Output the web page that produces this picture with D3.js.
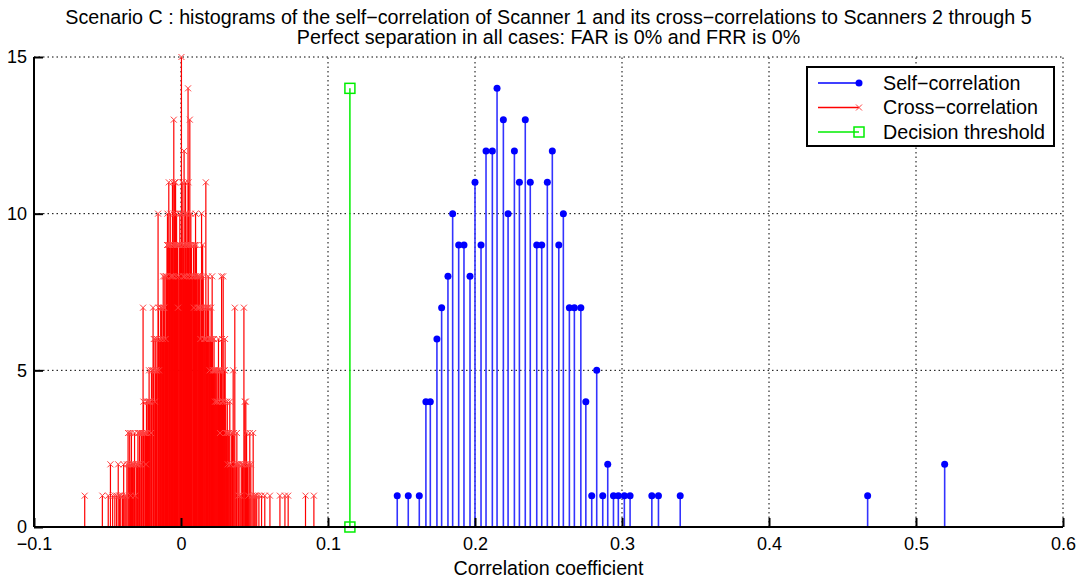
<!DOCTYPE html>
<html>
<head>
<meta charset="utf-8">
<script src="https://cdn.jsdelivr.net/npm/d3@7"></script>
<style>
  body { margin: 0; background: #fff; }
  text { font-family: "Liberation Sans", Arial, sans-serif; fill: #000; }
</style>
</head>
<body>
<div id="chart"></div>
<script>
// Self-correlation histogram (bin centre, count)
var selfStems = [
  [0.1471, 1], [0.1546, 1], [0.1621, 1], [0.1666, 4], [0.1696, 4], [0.1741, 6],
  [0.1773, 7], [0.1816, 8], [0.1848, 10], [0.1889, 9], [0.1925, 9], [0.1966, 8],
  [0.2000, 11], [0.2041, 9], [0.2075, 12], [0.2118, 12], [0.2150, 14], [0.2193, 13],
  [0.2225, 10], [0.2268, 12], [0.2302, 11], [0.2342, 13], [0.2376, 11], [0.2420, 9],
  [0.2454, 9], [0.2492, 11], [0.2526, 12], [0.2570, 9], [0.2601, 10], [0.2642, 7],
  [0.2676, 7], [0.2720, 7], [0.2754, 4], [0.2794, 1], [0.2828, 5], [0.2869, 1],
  [0.2903, 2], [0.2942, 1], [0.2975, 1], [0.3016, 1], [0.3055, 1], [0.3203, 1],
  [0.3248, 1], [0.3396, 1], [0.4671, 1], [0.5195, 2]
];

// Cross-correlation histograms (Scanners 2-5 overlaid)
var crossStems = [
  [-0.0655, 1], [-0.0535, 1], [-0.0495, 1], [-0.048, 2], [-0.0465, 1], [-0.045, 1],
  [-0.0438, 1], [-0.0427, 2], [-0.0418, 1], [-0.041, 1], [-0.0398, 1], [-0.039, 2],
  [-0.0382, 1], [-0.0375, 1], [-0.0368, 2], [-0.036, 3], [-0.0355, 2], [-0.0349, 3],
  [-0.0343, 1], [-0.0337, 3], [-0.033, 2], [-0.0325, 2], [-0.032, 2], [-0.0312, 1],
  [-0.0305, 2], [-0.030, 2], [-0.0293, 3], [-0.0287, 2], [-0.028, 3], [-0.0273, 2],
  [-0.0265, 3], [-0.0258, 7], [-0.0252, 3], [-0.0245, 3], [-0.0238, 2], [-0.0235, 4],
  [-0.0228, 3], [-0.0222, 4], [-0.0217, 5], [-0.021, 4], [-0.0204, 3], [-0.0198, 5],
  [-0.019, 7], [-0.0185, 6], [-0.0178, 4], [-0.0172, 5], [-0.017, 5], [-0.0163, 6],
  [-0.0156, 10], [-0.015, 5], [-0.0145, 6], [-0.0138, 7], [-0.013, 7], [-0.0125, 6],
  [-0.0118, 7], [-0.011, 8], [-0.0105, 6], [-0.0098, 8], [-0.0092, 10], [-0.0087, 9],
  [-0.0083, 11], [-0.0077, 9], [-0.007, 8], [-0.0064, 9], [-0.0058, 11], [-0.0053, 8],
  [-0.0049, 13], [-0.0043, 11], [-0.0037, 11], [-0.003, 10], [-0.0024, 9], [-0.0015, 8],
  [-0.0008, 10], [0.0003, 15], [0.0008, 11], [0.0015, 8], [0.0021, 12], [0.0028, 10],
  [0.0035, 9], [0.0041, 10], [0.0048, 14], [0.0054, 9], [0.006, 13], [0.0067, 10],
  [0.0075, 8], [0.0085, 9], [0.0092, 8], [0.0099, 10], [0.0105, 9], [0.011, 7],
  [0.0118, 8], [0.0125, 8], [0.0132, 6], [0.014, 10], [0.0147, 9], [0.0155, 7],
  [0.0162, 6], [0.0169, 11], [0.0177, 7], [0.0185, 8], [0.0192, 6], [0.0198, 6],
  [0.0205, 7], [0.0212, 8], [0.0218, 5], [0.0225, 6], [0.0232, 4], [0.024, 5],
  [0.0247, 4], [0.0255, 6], [0.0262, 4], [0.0268, 5], [0.0276, 8], [0.0282, 4],
  [0.0287, 8], [0.0294, 5], [0.030, 6], [0.0308, 3], [0.0315, 4], [0.0322, 3],
  [0.0332, 4], [0.0338, 2], [0.0345, 3], [0.0355, 5], [0.0366, 7], [0.0373, 2],
  [0.038, 3], [0.0388, 2], [0.0395, 2], [0.0403, 1], [0.041, 2], [0.0418, 2],
  [0.0428, 7], [0.0434, 4], [0.0441, 4], [0.0446, 3], [0.0452, 2], [0.0458, 1],
  [0.0468, 3], [0.0475, 2], [0.0483, 1], [0.0491, 3], [0.0498, 1], [0.0505, 1],
  [0.0515, 1], [0.053, 1], [0.0548, 1], [0.057, 1], [0.0605, 1], [0.0673, 1],
  [0.0707, 1], [0.0729, 1], [0.0847, 1], [0.0904, 1],
  // bins of the other overlaid scanners, lying between the ones above
  [-0.0345, 2], [-0.0333, 2], [-0.0316, 3], [-0.0297, 2], [-0.0283, 3], [-0.0269, 3],
  [-0.0255, 4], [-0.0241, 3], [-0.0225, 4], [-0.0213, 4], [-0.0201, 5], [-0.0188, 5],
  [-0.0175, 6], [-0.0166, 5], [-0.0153, 7], [-0.0141, 6], [-0.0134, 7], [-0.0121, 8],
  [-0.0114, 7], [-0.0101, 8], [-0.0095, 9], [-0.008, 9], [-0.0073, 10], [-0.0061, 8],
  [-0.0055, 9], [-0.0046, 10], [-0.004, 9], [-0.0033, 8], [-0.0027, 9], [-0.002, 7],
  [-0.0012, 9], [-0.0004, 9], [0.0005, 10], [0.0012, 9], [0.0018, 9], [0.0025, 8],
  [0.0031, 11], [0.0038, 8], [0.0044, 9], [0.0051, 11], [0.0057, 8], [0.0064, 9],
  [0.0071, 9], [0.008, 8], [0.0088, 7], [0.0095, 9], [0.0102, 8], [0.0114, 8],
  [0.0121, 7], [0.0128, 7], [0.0136, 8], [0.0144, 7], [0.0151, 8], [0.0158, 6],
  [0.0165, 7], [0.0173, 6], [0.0181, 7], [0.0189, 7], [0.0195, 5], [0.0202, 6],
  [0.0208, 6], [0.0215, 6], [0.0222, 5], [0.0229, 5], [0.0236, 5], [0.0244, 4],
  [0.0251, 5], [0.0258, 5], [0.0265, 3], [0.0272, 5], [0.0279, 6], [0.029, 4],
  [0.0297, 5], [0.0304, 4], [0.0311, 3], [0.0318, 2], [0.0327, 3], [0.0335, 2],
  [0.035, 3], [0.036, 3], [0.0377, 2], [0.0392, 1], [0.0423, 2], [0.0438, 2],
  [0.0462, 2]
];

// Decision threshold
var threshold = 0.1149;
var thresholdTop = 14;

var xTicks = [-0.1, 0, 0.1, 0.2, 0.3, 0.4, 0.5, 0.6];
var yTicks = [0, 5, 10, 15];
var titleLines = [
  'Scenario C : histograms of the self\u2212correlation of Scanner 1 and its cross\u2212correlations to Scanners 2 through 5',
  'Perfect separation in all cases: FAR is 0% and FRR is 0%'
];
var legendItems = ['Self\u2212correlation', 'Cross\u2212correlation', 'Decision threshold'];

(function() {
  var W = 1087, H = 580;
  var pL = 34, pR = 1063, pT = 57, pB = 527;
  var font = '"Liberation Sans", Arial, sans-serif';

  var svg = d3.select('#chart').append('svg')
    .attr('width', W).attr('height', H);

  var x = d3.scaleLinear().domain([-0.1, 0.6]).range([pL, pR]);
  var y = d3.scaleLinear().domain([0, 15]).range([pB, pT]);

  // Grid
  var grid = svg.append('g').attr('stroke', '#000').attr('stroke-width', 1).attr('stroke-dasharray', '1.5,3');
  grid.selectAll('line.vx').data(xTicks.slice(1)).join('line')
    .attr('class', 'vx')
    .attr('x1', d => x(d)).attr('x2', d => x(d)).attr('y1', pB).attr('y2', pT);
  grid.selectAll('line.hy').data(yTicks.slice(1)).join('line')
    .attr('class', 'hy')
    .attr('x1', pL).attr('x2', pR).attr('y1', d => y(d)).attr('y2', d => y(d));

  // Red stems
  var red = svg.append('g');
  red.selectAll('line').data(crossStems).join('line')
    .attr('x1', d => x(d[0])).attr('x2', d => x(d[0]))
    .attr('y1', y(0)).attr('y2', d => y(d[1]))
    .attr('stroke', '#ff0000').attr('stroke-width', 1.2);
  red.selectAll('path').data(crossStems).join('path')
    .attr('transform', d => 'translate(' + x(d[0]) + ',' + y(d[1]) + ')')
    .attr('d', 'M-3,-3L3,3M-3,3L3,-3')
    .attr('stroke', '#ff4040').attr('stroke-width', 1).attr('fill', 'none');

  // Blue stems
  var blue = svg.append('g');
  blue.selectAll('line').data(selfStems).join('line')
    .attr('x1', d => x(d[0])).attr('x2', d => x(d[0]))
    .attr('y1', y(0)).attr('y2', d => y(d[1]))
    .attr('stroke', '#3333ff').attr('stroke-width', 1.6);
  blue.selectAll('circle').data(selfStems).join('circle')
    .attr('cx', d => x(d[0])).attr('cy', d => y(d[1])).attr('r', 3.5)
    .attr('fill', '#0000ff');

  // Threshold
  var green = svg.append('g');
  green.append('line')
    .attr('x1', x(threshold)).attr('x2', x(threshold))
    .attr('y1', y(0)).attr('y2', y(thresholdTop))
    .attr('stroke', '#00ee00').attr('stroke-width', 1.5);
  green.selectAll('rect').data([0, thresholdTop]).join('rect')
    .attr('x', x(threshold) - 5).attr('y', d => y(d) - 5)
    .attr('width', 10).attr('height', 10)
    .attr('fill', 'none').attr('stroke', '#00ee00').attr('stroke-width', 1.5);

  // Axes (ticks point inward)
  var xAxis = d3.axisBottom(x).tickValues(xTicks).tickSize(-9).tickPadding(13)
    .tickFormat(d => d === 0 ? '0' : d3.format('.1f')(d).replace('-', '\u2212'));
  var gx = svg.append('g').attr('transform', 'translate(0,' + pB + ')').call(xAxis);
  var yAxis = d3.axisLeft(y).tickValues(yTicks).tickSize(-9).tickPadding(6);
  var gy = svg.append('g').attr('transform', 'translate(' + pL + ',0)').call(yAxis);
  [gx, gy].forEach(g => {
    g.select('.domain').attr('stroke', '#000').attr('stroke-width', 2);
    g.selectAll('.tick line').attr('stroke', '#000').attr('stroke-width', 2);
    g.selectAll('.tick text').attr('font-size', 18).attr('fill', '#000')
      .attr('font-family', font);
  });
  gx.select('.domain').attr('d', 'M' + pL + ',0H' + pR);
  gy.select('.domain').attr('d', 'M0,' + pT + 'V' + pB);
  gx.selectAll('.tick text').attr('dy', '0.71em').attr('y', 10);
  gy.selectAll('.tick text').attr('x', -7);

  // Titles
  svg.selectAll('text.title').data(titleLines).join('text')
    .attr('class', 'title')
    .attr('x', (pL + pR) / 2).attr('y', (d, i) => 24 + i * 20)
    .attr('text-anchor', 'middle').attr('font-size', 19.7)
    .text(d => d);

  svg.append('text')
    .attr('x', (pL + pR) / 2).attr('y', 575)
    .attr('text-anchor', 'middle').attr('font-size', 19.7)
    .text('Correlation coefficient');

  // Legend
  var legend = svg.append('g');
  legend.append('rect')
    .attr('x', 807).attr('y', 67).attr('width', 247).attr('height', 79)
    .attr('fill', '#fff').attr('stroke', '#000').attr('stroke-width', 2);
  var rows = legend.selectAll('g').data(legendItems).join('g')
    .attr('transform', (d, i) => 'translate(0,' + (83 + i * 24.5) + ')');
  var colors = ['#0000ff', '#ff0000', '#00ee00'];
  rows.append('line').attr('x1', 818).attr('x2', 859).attr('y1', 0).attr('y2', 0)
    .attr('stroke', (d, i) => colors[i]).attr('stroke-width', 1.3);
  rows.each(function(d, i) {
    var g = d3.select(this);
    if (i === 0) g.append('circle').attr('cx', 859).attr('cy', 0).attr('r', 3.5).attr('fill', '#0000ff');
    if (i === 1) g.append('path').attr('d', 'M856,-3L862,3M856,3L862,-3').attr('stroke', '#ff4040').attr('stroke-width', 1);
    if (i === 2) g.append('rect').attr('x', 854).attr('y', -5).attr('width', 10).attr('height', 10)
      .attr('fill', 'none').attr('stroke', '#00ee00').attr('stroke-width', 1.5);
  });
  rows.append('text').attr('x', 883).attr('y', 0).attr('dy', '0.35em')
    .attr('font-size', 19.7).text(d => d);
})();
</script>
</body>
</html>
